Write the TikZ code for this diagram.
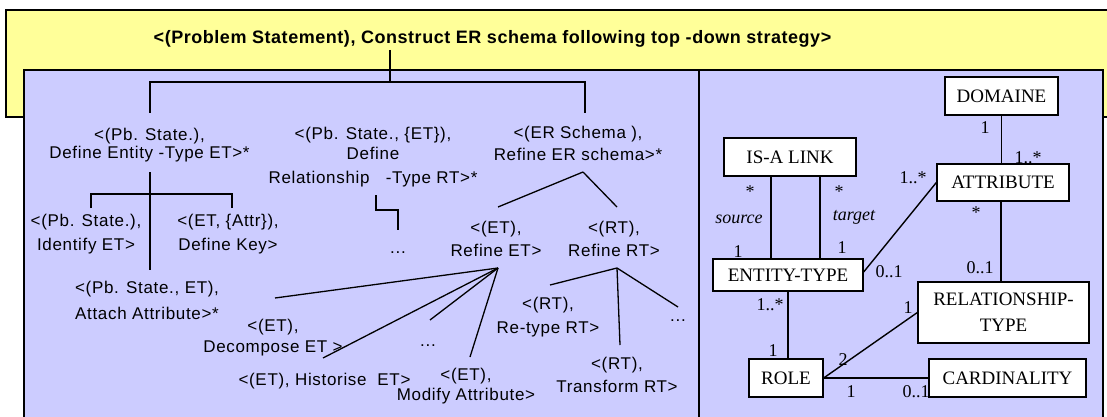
\documentclass[tikz,border=0pt]{standalone}
\usepackage{fontspec}
\newfontfamily\tasksans[LetterSpace=4]{Liberation Sans}
\newfontfamily\headsans[LetterSpace=3]{Liberation Sans}
\newfontfamily\erserif{Liberation Serif}
\definecolor{paleyellow}{RGB}{255,255,153}
\definecolor{panelblue}{RGB}{204,204,255}

\begin{document}
\begin{tikzpicture}[x=1pt,y=-1pt,
  panel/.style={draw=black, line width=1.2pt},
  task/.style={font=\tasksans\fontsize{17}{#1}\selectfont, align=center, anchor=base, inner sep=0pt},
  task/.default=23,
  headline/.style={font=\headsans\bfseries\fontsize{18}{20}\selectfont, anchor=base, inner sep=0pt},
  link/.style={line width=1.3pt},
  ent/.style={draw, line width=1.3pt, fill=white, font=\erserif\fontsize{19}{26}\selectfont, inner sep=0pt, align=center},
  rel/.style={line width=1.4pt},
  mult/.style={font=\erserif\fontsize{18}{20}\selectfont, anchor=base, inner sep=0pt},
  rolename/.style={font=\erserif\itshape\fontsize{18}{20}\selectfont, anchor=base, inner sep=0pt}
]
\useasboundingbox (0,0) rectangle (1107,417);
\clip (0,0) rectangle (1107,417);
\fill[white] (0,0) rectangle (1107,417);

% background panels
\draw[panel, fill=paleyellow] (6,10) rectangle (1130,117);
\draw[panel, fill=panelblue] (24,70) rectangle (1103,440);
\draw[panel] (699,70) -- (699,440);

% ---------- task tree (left); multi-line labels sit on their last baseline ----------
\node[headline] (root) at (492.5,44) {<(Problem Statement), Construct ER schema following top -down strategy>};

\node[task=18] (defet) at (149.5,158) {<(Pb. State.),\\Define Entity -Type ET>*};
\node[task=20] (defrt) at (373,183) {<(Pb. State., \{ET\}),\\Define\\[4pt]Relationship\ \ \ -Type RT>*};
\node[task=21] (refer) at (578,160) {<(ER Schema ),\\Refine ER schema>*};

\node[task=24] (ident) at (86,250) {<(Pb. State.),\\Identify ET>};
\node[task=24] (defkey) at (228,250) {<(ET, \{Attr\}),\\Define Key>};
\node[task=26] (attach) at (147,319) {<(Pb. State., ET),\\Attach Attribute>*};

\node[task=21] (decomp) at (273,352) {<(ET),\\Decompose ET >};
\node[task] (hist) at (324.5,385) {<(ET), Historise\ \ ET>};
\node[task=20] (modattr) at (466,400) {<(ET),\\Modify Attribute>};
\node[task] (moreet) at (428,346) {...};

\node[task=23] (refet) at (496,256) {<(ET),\\Refine ET>};
\node[task=23] (refrt) at (614,256) {<(RT),\\Refine RT>};
\node[task] (morert) at (398,253) {...};

\node[task=24] (retype) at (548,333) {<(RT),\\Re-type RT>};
\node[task=23] (transf) at (617,392) {<(RT),\\Transform RT>};
\node[task] (morerr) at (678,321) {...};

% connector end points of the task tree
\coordinate (rootfoot) at (390,50);
\coordinate (rootbar) at (390,82);
\coordinate (defethead) at (150,113);
\coordinate (referhead) at (585,113);
\coordinate (defetfoot) at (150,172);
\coordinate (etbar) at (150,194);
\coordinate (attachhead) at (150,270);
\coordinate (identhead) at (91,208);
\coordinate (defkeyhead) at (232,208);
\coordinate (defrtfoot) at (376,195);
\coordinate (defrtelbow) at (376,210);
\coordinate (morerthead) at (398,230);
\coordinate (referfoot) at (583,172);
\coordinate (refethead) at (498,207);
\coordinate (refrthead) at (617,207);
\coordinate (refetfoot) at (498,268);
\coordinate (decomphead) at (275,298);
\coordinate (histhead) at (323,358);
\coordinate (moreethead) at (430,320);
\coordinate (modattrhead) at (470,357);
\coordinate (refrtfoot) at (617,268);
\coordinate (retypehead) at (550,285);
\coordinate (transfhead) at (620,345);
\coordinate (morerrhead) at (678,307);

\draw[link] (rootfoot) -- (rootbar);
\draw[link] (defethead) |- (referhead |- rootbar) -- (referhead);
\draw[link] (defetfoot) -- (attachhead);
\draw[link] (identhead) |- (defkeyhead |- etbar) -- (defkeyhead);
\draw[link] (defrtfoot) -- (defrtelbow) -| (morerthead);
\draw[link] (referfoot) -- (refethead);
\draw[link] (referfoot) -- (refrthead);
\draw[link] (refetfoot) -- (decomphead);
\draw[link] (refetfoot) -- (histhead);
\draw[link] (refetfoot) -- (moreethead);
\draw[link] (refetfoot) -- (modattrhead);
\draw[link] (refrtfoot) -- (retypehead);
\draw[link] (refrtfoot) -- (transfhead);
\draw[link] (refrtfoot) -- (morerrhead);

% ---------- ER meta-schema (right) ----------
\node[ent, minimum width=113pt, minimum height=38pt] (domaine) at (1001.5,96) {DOMAINE};
\node[ent, minimum width=132pt, minimum height=38pt] (isa) at (790,157) {IS-A LINK};
\node[ent, minimum width=132pt, minimum height=37pt] (attr) at (1003,182.5) {ATTRIBUTE};
\node[ent, minimum width=150pt, minimum height=32pt] (etype) at (788,275) {ENTITY-TYPE};
\node[ent, minimum width=171pt, minimum height=61pt] (reltype) at (1003.5,312.5) {RELATIONSHIP-\\TYPE};
\node[ent, minimum width=74pt, minimum height=38pt] (role) at (786,378) {ROLE};
\node[ent, minimum width=157pt, minimum height=38pt] (card) at (1007.5,378) {CARDINALITY};

\draw[rel] (domaine.south) -- (domaine.south |- attr.north);
\draw[rel] ([xshift=-19pt]isa.south) -- ([xshift=-19pt]isa.south |- etype.north);
\draw[rel] ([xshift=30pt]isa.south) -- ([xshift=30pt]isa.south |- etype.north);
\draw[rel] ([yshift=3pt]etype.east) -- (attr.west);
\draw[rel] ([xshift=-2pt]attr.south) -- ([xshift=-2pt]attr.south |- reltype.north);
\draw[rel] (etype.south) -- (etype.south |- role.north);
\draw[rel] (role.east) -- (reltype.west);
\draw[rel] (role.east) -- (card.west);

\node[mult] (m1) at (985,133) {1};
\node[mult] (m2) at (1028,163) {1..*};
\node[mult] (m3) at (750,197) {*};
\node[rolename] (m4) at (739,223) {source};
\node[mult] (m5) at (738,257) {1};
\node[mult] (m6) at (839,197) {*};
\node[rolename] (m7) at (854,220) {target};
\node[mult] (m8) at (842,253) {1};
\node[mult] (m9) at (913,183) {1..*};
\node[mult] (m10) at (889,277) {0..1};
\node[mult] (m11) at (976,218) {*};
\node[mult] (m12) at (980,273) {0..1};
\node[mult] (m13) at (770,310) {1..*};
\node[mult] (m14) at (773,356) {1};
\node[mult] (m15) at (908,313) {1};
\node[mult] (m16) at (843,365) {2};
\node[mult] (m17) at (851,397) {1};
\node[mult] (m18) at (916,397) {0..1};
\end{tikzpicture}
\end{document}
